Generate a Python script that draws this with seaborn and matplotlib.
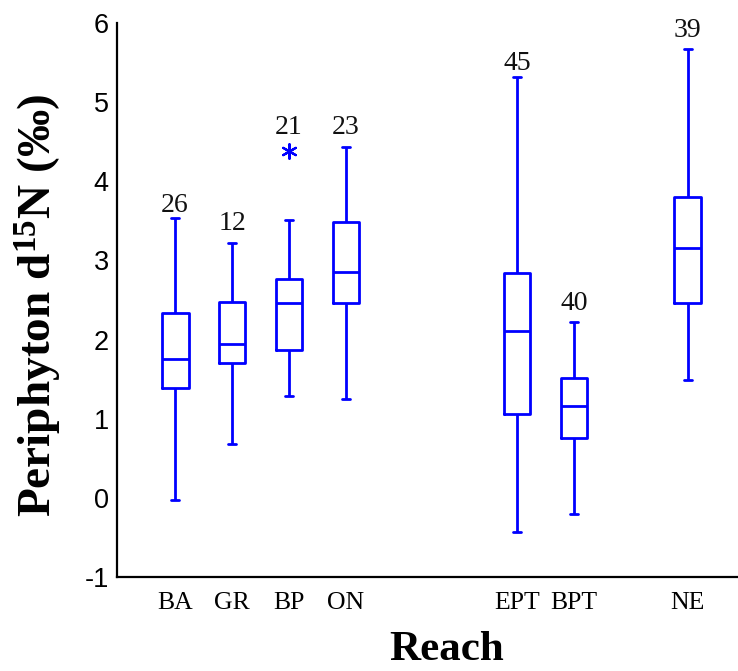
import numpy as np
import pandas as pd
import matplotlib
matplotlib.use("Agg")
import matplotlib.pyplot as plt
import seaborn as sns

# ---- data ----
reaches = ["BA", "GR", "BP", "ON", "EPT", "BPT", "NE"]
reach_pos = [0, 1, 2, 3, 6, 7, 9]
whisker_low = [-0.03, 0.68, 1.29, 1.25, -0.43, -0.20, 1.49]
q1 = [1.39, 1.70, 1.87, 2.46, 1.06, 0.76, 2.46]
median = [1.76, 1.95, 2.46, 2.86, 2.11, 1.16, 3.16]
q3 = [2.33, 2.48, 2.76, 3.49, 2.84, 1.52, 3.80]
whisker_high = [3.54, 3.22, 3.51, 4.43, 5.32, 2.22, 5.67]
n_samples = [26, 12, 21, 23, 45, 40, 39]
n_label_y = [3.70, 3.47, 4.68, 4.68, 5.49, 2.46, 5.90]
outlier_reach = ["BP"]
outlier_value = [4.38]
y_ticks = [-1, 0, 1, 2, 3, 4, 5, 6]

sns.set_style("white")
plt.rcParams["text.color"] = "black"
plt.rcParams["axes.labelcolor"] = "black"
plt.rcParams["xtick.color"] = "black"
plt.rcParams["ytick.color"] = "black"
plt.rcParams["mathtext.fontset"] = "custom"
plt.rcParams["mathtext.rm"] = "Liberation Serif:bold"
plt.rcParams["mathtext.bf"] = "Liberation Serif:bold"
plt.rcParams["mathtext.it"] = "Liberation Serif:bold"

rows = []
for r, p, a, b, c, d, e in zip(reaches, reach_pos, whisker_low, q1, median, q3, whisker_high):
    for v in (a, b, c, d, e):
        rows.append({"reach": r, "pos": p, "value": v})
df = pd.DataFrame(rows)

pos_of = dict(zip(reaches, reach_pos))
out_df = pd.DataFrame({"pos": [pos_of[r] for r in outlier_reach], "value": outlier_value})

fig = plt.figure(figsize=(7.38, 6.71), dpi=100)
ax = fig.add_axes([117 / 738, 1 - 577 / 671, 1 - 117 / 738, (577 - 23) / 671])

sns.boxplot(data=df, x="pos", y="value", native_scale=True, width=0.47,
            whis=np.inf, fill=False, color="blue", linecolor="blue",
            linewidth=2, capwidths=0.14, ax=ax)
sns.scatterplot(data=out_df, x="pos", y="value", marker=(6, 2, 0), s=110,
                color="blue", edgecolor="blue", linewidth=1.6, ax=ax, zorder=5)

for p, n, ly in zip(reach_pos, n_samples, n_label_y):
    ax.text(p, ly, str(n), ha="center", va="center", fontsize=20,
            family="Liberation Serif", color="#111111")

ax.set_xlim(-1.02, 9.88)
ax.set_ylim(-1, 6)
ax.set_yticks(y_ticks)
ax.set_yticklabels([str(t) for t in y_ticks], family="Liberation Sans", fontsize=19.5)
ax.set_xticks(reach_pos)
ax.set_xticklabels(reaches, family="Liberation Serif", fontsize=18.5)
ax.tick_params(axis="y", direction="in", length=14, width=1.5, pad=6, colors="black")
ax.tick_params(axis="x", length=0, pad=11, colors="black")

for s in ("top", "right"):
    ax.spines[s].set_visible(False)
for s in ("left", "bottom"):
    ax.spines[s].set_color("black")
    ax.spines[s].set_linewidth(1.6)

ax.set_ylabel("Periphyton d$^{15}$N (‰)", family="Liberation Serif",
              fontweight="bold", fontsize=34, color="black")
ax.yaxis.set_label_coords(-0.085, 0.49)
ax.set_xlabel("Reach", family="Liberation Serif", fontweight="bold", fontsize=31,
              color="black")
ax.xaxis.set_label_coords(0.531, -0.098)

fig.savefig("out.png", dpi=100)
